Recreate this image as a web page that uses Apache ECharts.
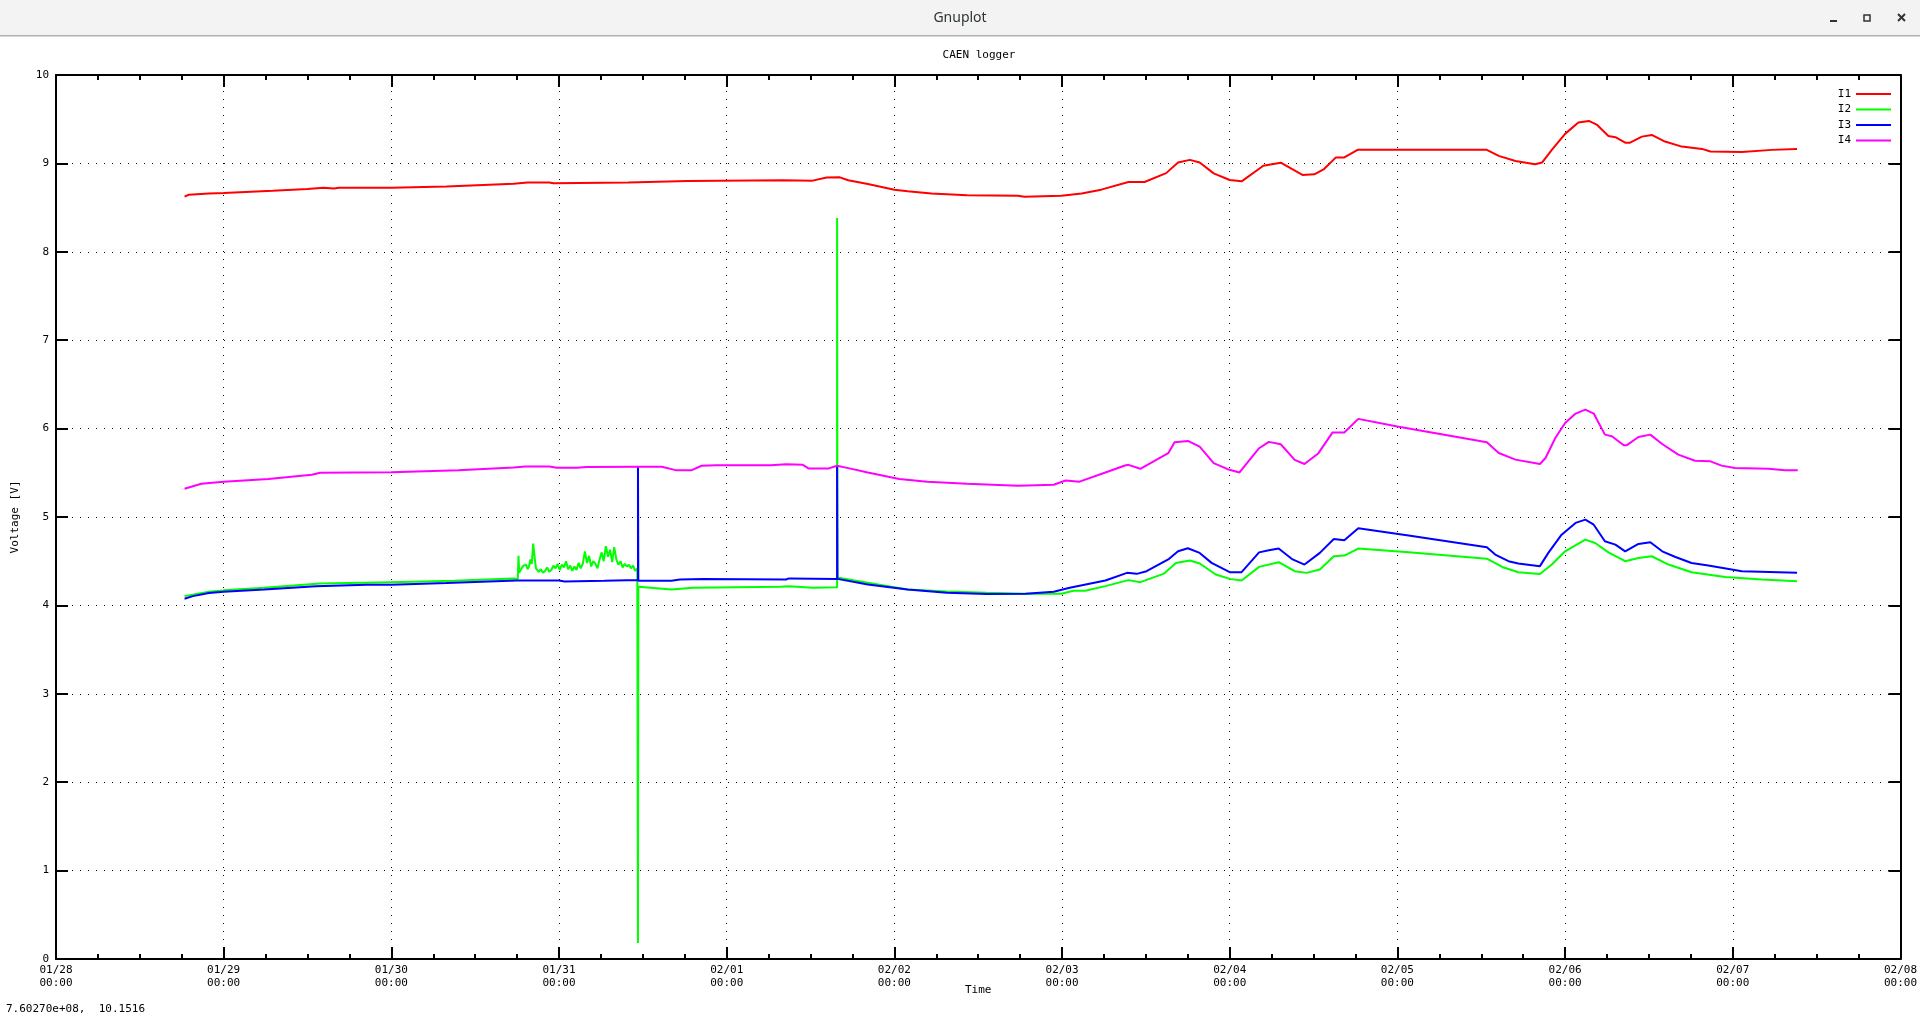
<!DOCTYPE html>
<html>
<head>
<meta charset="utf-8">
<script src="https://cdn.jsdelivr.net/npm/echarts@6/dist/echarts.min.js"></script>
<style>
html,body{margin:0;padding:0;background:#fff;}
#chart{width:1920px;height:1014px;}
</style>
</head>
<body>
<div id="chart"></div>
<script>
// x values are hours since 01/28 00:00
const xTickLabels = ['01/28','01/29','01/30','01/31','02/01','02/02','02/03','02/04','02/05','02/06','02/07','02/08'];
const yTickLabels = ['0','1','2','3','4','5','6','7','8','9','10'];
const seriesNames = ['I1','I2','I3','I4'];

const I1 = [[18.4,8.624],[19.0,8.645],[21.9,8.66],[24,8.665],[31,8.69],[36,8.71],[38.3,8.725],[39.8,8.715],[40.5,8.725],[48,8.725],[55.9,8.74],[65.5,8.77],[67.5,8.785],[70.6,8.785],[71.2,8.775],[81.9,8.785],[90.4,8.80],[104,8.81],[108.3,8.805],[110.3,8.84],[112.2,8.842],[113.4,8.81],[116.2,8.767],[120,8.703],[121.9,8.684],[125.3,8.66],[130.4,8.64],[137.7,8.635],[138.6,8.624],[143.9,8.635],[146.8,8.66],[149.6,8.703],[153.5,8.79],[155.8,8.79],[158.9,8.89],[160.6,9.01],[162.3,9.04],[163.7,9.01],[165.7,8.887],[168.0,8.812],[169.7,8.797],[172.8,8.974],[175.3,9.008],[178.4,8.87],[180.1,8.876],[181.5,8.936],[183.2,9.068],[184.4,9.068],[186.3,9.154],[204.8,9.153],[206.5,9.085],[208.9,9.028],[211.7,8.99],[212.7,9.01],[214.1,9.153],[216.0,9.334],[217.9,9.462],[219.4,9.48],[220.6,9.435],[222.2,9.31],[223.2,9.296],[224.6,9.235],[225.3,9.235],[227.0,9.303],[228.4,9.322],[230.3,9.247],[232.7,9.19],[235.6,9.164],[236.8,9.134],[241.3,9.13],[245.6,9.153],[249.2,9.164]];

const I2start = [[18.4,4.105],[21.9,4.155],[24,4.17],[29.8,4.2],[37.8,4.248],[48,4.263],[57,4.278],[65.5,4.305],[66.1,4.30]];
const I2noise = [[66.2,4.56],[66.3,4.37],[66.5,4.40],[66.7,4.38],[66.9,4.45],[67.1,4.43],[67.3,4.46],[67.5,4.41],[67.7,4.44],[67.9,4.52],[68.1,4.47],[68.3,4.70],[68.5,4.55],[68.7,4.42],[68.9,4.40],[69.1,4.38],[69.4,4.41],[69.7,4.37],[70.0,4.39],[70.3,4.43],[70.6,4.38],[70.9,4.40],[71.2,4.45],[71.5,4.42],[71.8,4.47],[72.1,4.40],[72.4,4.46],[72.7,4.43],[73.0,4.50],[73.3,4.41],[73.6,4.45],[73.9,4.39],[74.2,4.44],[74.5,4.40],[74.8,4.48],[75.1,4.42],[75.4,4.47],[75.7,4.61],[76.0,4.48],[76.3,4.56],[76.6,4.44],[76.9,4.50],[77.2,4.47],[77.5,4.42],[77.8,4.52],[78.1,4.60],[78.4,4.50],[78.7,4.67],[79.0,4.55],[79.3,4.63],[79.6,4.49],[79.9,4.66],[80.2,4.52],[80.5,4.46],[80.8,4.50],[81.1,4.43],[81.4,4.47],[81.7,4.44],[82.0,4.46],[82.3,4.42],[82.6,4.45],[82.9,4.39],[83.2,4.42]];
const I2rest = [[83.3,0.18],[83.35,4.21],[88.1,4.18],[91.2,4.20],[103.7,4.21],[104.9,4.218],[108.3,4.20],[111.8,4.206],[111.8,8.383],[111.85,4.30],[112.2,4.31],[116.2,4.256],[121.9,4.18],[127.5,4.158],[133.2,4.143],[138.8,4.132],[143.9,4.132],[145.6,4.165],[147.3,4.165],[150.2,4.218],[153.5,4.286],[155.2,4.263],[158.6,4.36],[160.3,4.48],[162.3,4.508],[163.7,4.474],[166.0,4.35],[168.0,4.30],[169.7,4.282],[172.2,4.436],[175.0,4.489],[177.3,4.387],[179.0,4.368],[180.9,4.406],[182.9,4.556],[184.4,4.564],[186.4,4.643],[193.6,4.60],[204.8,4.529],[207.0,4.435],[209.3,4.375],[212.4,4.356],[214.1,4.462],[216.0,4.612],[218.9,4.744],[220.3,4.706],[222.2,4.60],[224.6,4.50],[226.5,4.537],[228.4,4.556],[230.8,4.462],[234.1,4.375],[238.9,4.322],[244.2,4.292],[249.2,4.273]];

const I3 = [[18.4,4.075],[19.6,4.105],[21.9,4.14],[24,4.155],[29.8,4.18],[37.2,4.218],[44.5,4.233],[48,4.233],[55.9,4.252],[66.0,4.282],[72,4.282],[72.8,4.27],[78.5,4.278],[83.3,4.286],[83.3,5.568],[83.35,4.28],[88.1,4.28],[89.3,4.293],[92.6,4.30],[104.5,4.293],[104.9,4.305],[111.8,4.30],[111.8,5.58],[111.85,4.30],[116.2,4.237],[121.9,4.18],[127.5,4.143],[133.2,4.128],[138.8,4.132],[142.8,4.155],[145.1,4.20],[150.2,4.282],[153.3,4.368],[154.7,4.357],[156.1,4.387],[159.2,4.52],[160.6,4.613],[162.0,4.647],[163.7,4.594],[165.4,4.481],[168.0,4.376],[169.7,4.376],[172.2,4.60],[173.6,4.624],[175.0,4.643],[177.0,4.52],[178.7,4.462],[180.9,4.594],[182.9,4.752],[184.4,4.737],[186.4,4.872],[193.6,4.79],[204.8,4.658],[206.0,4.575],[207.9,4.50],[209.3,4.474],[212.4,4.444],[213.6,4.594],[215.5,4.80],[217.5,4.933],[218.9,4.97],[220.1,4.913],[221.7,4.725],[223.2,4.687],[224.6,4.612],[226.5,4.695],[228.2,4.714],[229.9,4.612],[231.8,4.548],[234.1,4.48],[236.5,4.451],[241.3,4.387],[249.2,4.368]];

const I4 = [[18.4,5.32],[20.8,5.376],[24,5.40],[30.4,5.43],[36.6,5.477],[37.8,5.50],[48,5.507],[57.6,5.53],[65.5,5.56],[67.2,5.571],[70.6,5.571],[71.7,5.556],[74.5,5.556],[76,5.565],[83.3,5.568],[86.7,5.568],[88.7,5.53],[91,5.53],[92.4,5.58],[94.4,5.586],[102.3,5.586],[104.5,5.598],[106.9,5.59],[107.7,5.55],[110.6,5.55],[111.8,5.58],[113.4,5.553],[116.2,5.504],[120.7,5.43],[124.7,5.40],[130.4,5.376],[137.7,5.353],[142.8,5.365],[144.5,5.413],[146.5,5.40],[150.2,5.504],[153.0,5.583],[153.5,5.59],[155.2,5.545],[159.2,5.722],[160.1,5.846],[162.0,5.861],[163.7,5.797],[165.7,5.61],[167.7,5.541],[169.4,5.504],[172.2,5.778],[173.6,5.85],[175.3,5.823],[177.3,5.647],[178.7,5.60],[180.7,5.722],[182.7,5.955],[184.4,5.955],[186.4,6.11],[192,6.023],[204.8,5.845],[206.5,5.724],[208.9,5.649],[212.4,5.60],[213.2,5.668],[214.6,5.894],[216.0,6.064],[217.5,6.17],[218.9,6.215],[220.1,6.17],[221.7,5.932],[222.7,5.913],[224.4,5.811],[224.8,5.811],[226.5,5.905],[228.2,5.932],[229.9,5.826],[232.2,5.705],[234.6,5.637],[236.8,5.63],[238.4,5.581],[240.3,5.555],[245.1,5.547],[247.5,5.528],[249.3,5.528]];

const I2 = I2start.concat(I2noise, I2rest);
const seriesData = [I1, I2, I3, I4];
const colors = ['#ff0000', '#00ff00', '#0000ff', '#ff00ff'];

const FONT = 'DejaVu Sans Mono';
const chart = echarts.init(document.getElementById('chart'), null, {renderer: 'canvas'});

const xBase = {
  type: 'value', min: 0, max: 264, interval: 24,
  axisLine: {show: true, onZero: false, lineStyle: {color: '#000', width: 2}},
  axisTick: {show: true, inside: true, length: 12, lineStyle: {color: '#000', width: 2}},
  minorTick: {show: true, splitNumber: 4, length: 5, lineStyle: {color: '#000', width: 2}},
};
const yBase = {
  type: 'value', min: 0, max: 10, interval: 1,
  axisLine: {show: true, onZero: false, lineStyle: {color: '#000', width: 2}},
  axisTick: {show: true, inside: true, length: 12, lineStyle: {color: '#000', width: 2}},
};
const dotted = {show: true, lineStyle: {color: '#000', width: 1, type: [1, 7]}};

chart.setOption({
  animation: false,
  backgroundColor: '#ffffff',
  grid: {left: 56, right: 18, top: 75, bottom: 55, containLabel: false},
  legend: {
    data: seriesNames, orient: 'vertical', align: 'right', padding: 0,
    right: 29, top: 87, itemWidth: 35, itemHeight: 2, itemGap: 1.5, icon: 'rect',
    textStyle: {fontFamily: FONT, fontSize: 11, color: '#000', lineHeight: 14},
    selectedMode: false
  },
  xAxis: [
    Object.assign({}, xBase, {
      position: 'bottom',
      name: 'Time', nameLocation: 'middle', nameGap: 26, nameMoveOverlap: false,
      nameTextStyle: {fontFamily: FONT, fontSize: 11, color: '#000'},
      axisLabel: {
        show: true, margin: 5, color: '#000', fontFamily: FONT, fontSize: 11, lineHeight: 13,
        formatter: function (v) { return xTickLabels[Math.round(v / 24)] + '\n00:00'; }
      },
      splitLine: dotted
    }),
    Object.assign({}, xBase, {position: 'top', axisLabel: {show: false}, splitLine: {show: false}})
  ],
  yAxis: [
    Object.assign({}, yBase, {
      position: 'left',
      name: 'Voltage [V]', nameLocation: 'middle', nameGap: 35, nameRotate: 90, nameMoveOverlap: false,
      nameTextStyle: {fontFamily: FONT, fontSize: 11, color: '#000'},
      axisLabel: {show: true, margin: 7, color: '#000', fontFamily: FONT, fontSize: 11,
        formatter: function (v) { return yTickLabels[Math.round(v)]; }},
      splitLine: dotted
    }),
    Object.assign({}, yBase, {position: 'right', axisLabel: {show: false}, splitLine: {show: false}})
  ],
  series: seriesData.map(function (d, i) {
    return {
      name: seriesNames[i], type: 'line', data: d, xAxisIndex: 0, yAxisIndex: 0,
      showSymbol: false, symbol: 'none', sampling: null,
      lineStyle: {color: colors[i], width: 2}, itemStyle: {color: colors[i]},
      emphasis: {disabled: true}, z: 2 + i
    };
  }),
  graphic: [
    {type: 'rect', shape: {x: 0, y: 0, width: 1920, height: 36}, style: {fill: '#f3f3f3'}, z: 10},
    {type: 'rect', shape: {x: 0, y: 35, width: 1920, height: 1.5}, style: {fill: '#b0b0b0'}, z: 10},
    {type: 'text', x: 960, y: 18, style: {text: 'Gnuplot', fill: '#2e3436', font: '14px "Noto Sans"', textAlign: 'center', textVerticalAlign: 'middle'}, z: 11},
    {type: 'rect', shape: {x: 1830, y: 20, width: 7, height: 2}, style: {fill: '#2e3436'}, z: 11},
    {type: 'rect', shape: {x: 1864, y: 15, width: 6, height: 6}, style: {fill: 'none', stroke: '#2e3436', lineWidth: 1.5}, z: 11},
    {type: 'line', shape: {x1: 1898, y1: 14, x2: 1905, y2: 21}, style: {stroke: '#2e3436', lineWidth: 2}, z: 11},
    {type: 'line', shape: {x1: 1905, y1: 14, x2: 1898, y2: 21}, style: {stroke: '#2e3436', lineWidth: 2}, z: 11},
    {type: 'text', x: 979, y: 55, style: {text: 'CAEN logger', fill: '#000', font: '11px "DejaVu Sans Mono"', textAlign: 'center', textVerticalAlign: 'middle'}, z: 11},
    {type: 'text', x: 6, y: 1009, style: {text: '7.60270e+08,  10.1516', fill: '#000', font: '11px "DejaVu Sans Mono"', textAlign: 'left', textVerticalAlign: 'middle'}, z: 11}
  ]
});
</script>
</body>
</html>
